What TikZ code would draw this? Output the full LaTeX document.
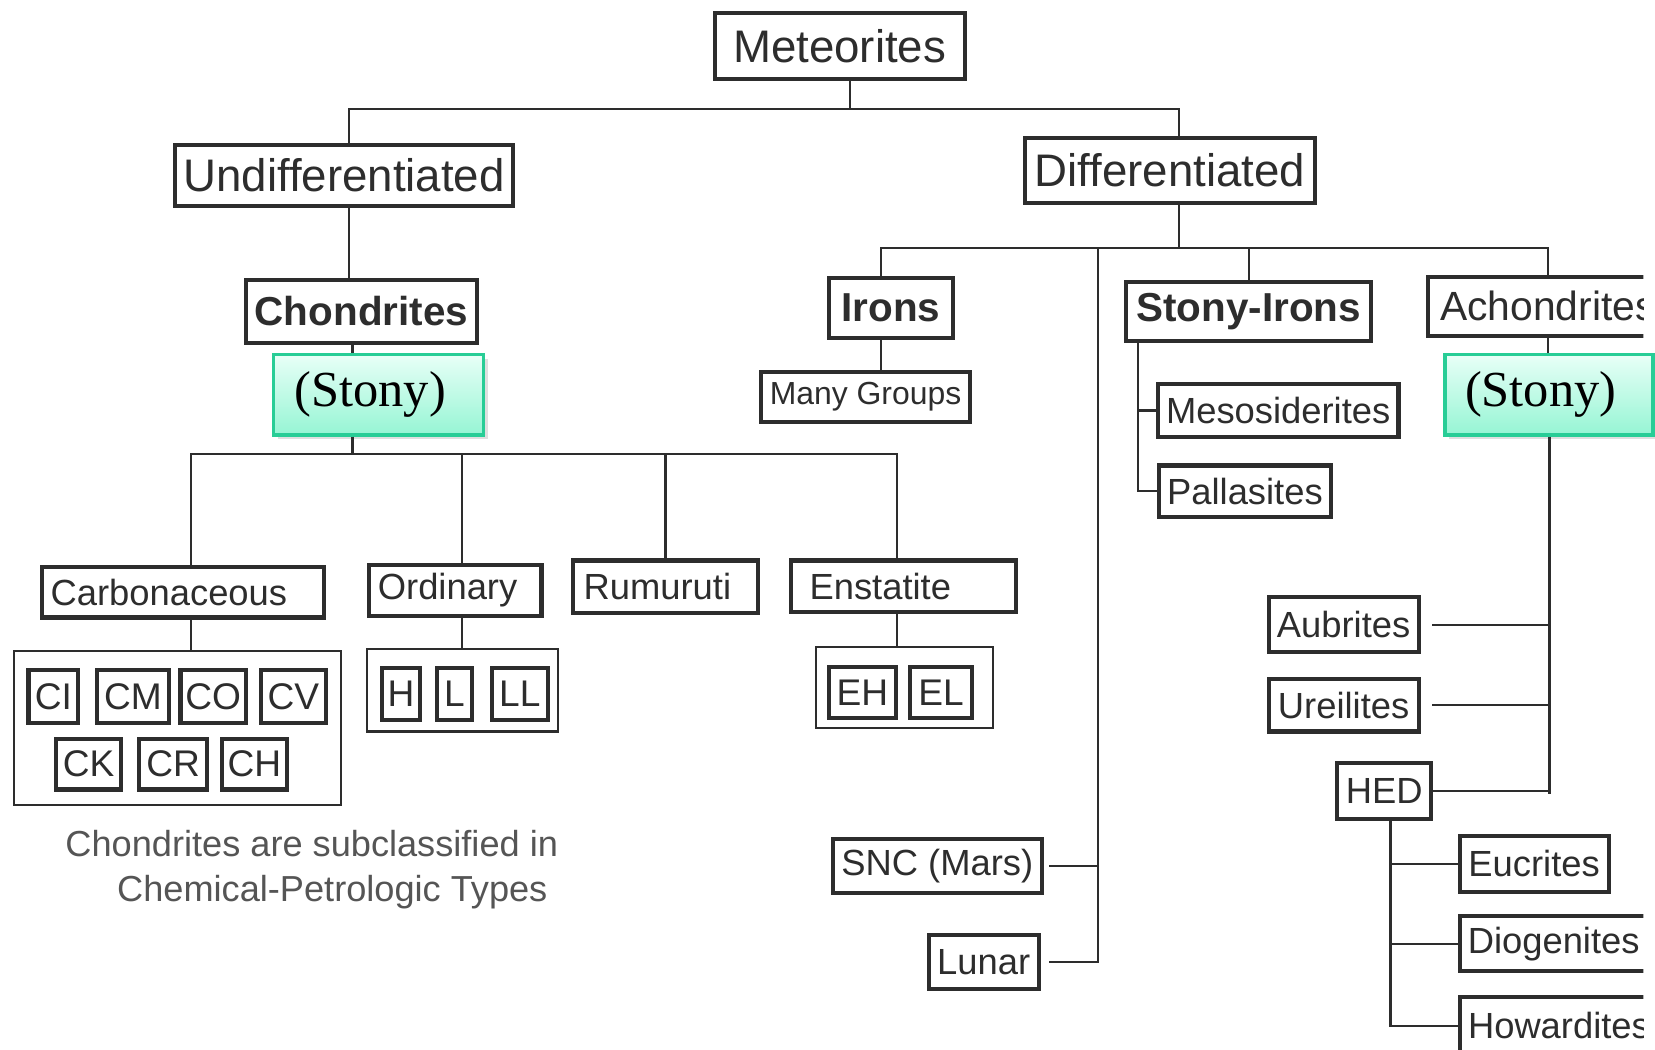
\documentclass[tikz,border=0pt]{standalone}
\usepackage{fontspec}
\setmainfont{Liberation Sans}
\newfontfamily\stonyfont{Liberation Serif}
\usetikzlibrary{shadows}
\definecolor{ink}{RGB}{45,45,45}
\definecolor{note_gray}{RGB}{85,85,85}
\definecolor{stony_top}{RGB}{232,255,247}
\definecolor{stony_bot}{RGB}{150,245,212}
\definecolor{stony_edge}{RGB}{40,205,150}

\begin{document}
\begin{tikzpicture}[x=0.1mm,y=-0.1mm,line width=0.6pt,color=ink]
    \tikzstyle{box}=[draw=ink,line width=1.1pt,inner sep=0pt,text=ink,font=\fontsize{9.8}{11}\selectfont]
    \tikzstyle{bigbox}=[style=box,font=\fontsize{12.3}{14}\selectfont]
    \tikzstyle{boldbox}=[style=box,font=\fontsize{10.9}{13}\selectfont\bfseries]
    \tikzstyle{group}=[draw=ink,line width=0.6pt,inner sep=0pt]
    \tikzstyle{letter}=[style=box,font=\fontsize{10}{11}\selectfont]
    \tikzstyle{stony}=[draw=stony_edge,line width=0.9pt,top color=stony_top,bottom color=stony_bot,
                      text=black,font=\stonyfont\fontsize{13.6}{15}\selectfont,inner sep=0pt,
                      text width=15.9mm,align=left,
                      drop shadow={opacity=0.25,shadow xshift=0.4mm,shadow yshift=-0.4mm}]
    \tikzstyle{note}=[text=note_gray,align=left,inner sep=0pt,font=\fontsize{9.75}{12}\selectfont]

    \fill[white] (0,0) rectangle (1568,994);
    \useasboundingbox (0,0) rectangle (1568,994);

    % green overlays
    \node[stony,minimum width=19.9mm,minimum height=7.6mm] (stonyL) at (358.5,374) {(Stony)};
    \node[stony,minimum width=19.7mm,minimum height=7.6mm] (stonyR) at (1467.5,374) {(Stony)};

    \begin{scope}
    \clip (0,0) rectangle (1557,994);

    % upper levels
    \node[bigbox,minimum width=23.7mm,minimum height=6.3mm] (met) at (795.5,43.5) {Meteorites};
    \node[bigbox,minimum width=32.0mm,minimum height=5.8mm] (und) at (326,166) {Undifferentiated};
    \node[bigbox,minimum width=27.5mm,minimum height=6.1mm] (dif) at (1108.5,161.5) {Differentiated};
    \node[boldbox,minimum width=21.9mm,minimum height=6.0mm] (cho) at (342.5,295) {Chondrites};
    \node[boldbox,minimum width=11.8mm,minimum height=5.7mm] (irn) at (844,291.5) {Irons};
    \node[boldbox,minimum width=23.2mm,minimum height=5.6mm] (sti) at (1183,295) {Stony-Irons};
    \node[box,minimum width=22.7mm,minimum height=5.6mm,font=\fontsize{11}{13}\selectfont] (ach) at (1466.5,290) {Achondrites};
    \node[box,minimum width=19.8mm,minimum height=4.8mm,font=\fontsize{8.6}{10}\selectfont] (many) at (820,376) {Many Groups};
    \node[box,minimum width=22.8mm,minimum height=5.0mm] (mes) at (1211,389) {Mesosiderites};
    \node[box,minimum width=16.3mm,minimum height=4.9mm] (pal) at (1179.5,465.5) {Pallasites};

    % chondrite classes
    \node[box,minimum width=26.7mm,minimum height=4.8mm,text width=25.1mm,align=left] (car) at (173.5,561) {Carbonaceous};
    \node[box,minimum width=16.3mm,minimum height=4.9mm,text width=14.7mm,align=left] (ord) at (431.5,559.5) {Ordinary};
    \node[box,minimum width=17.5mm,minimum height=5.0mm,text width=15.5mm,align=left] (rum) at (630.5,556) {Rumuruti};
    \node[box,minimum width=21.4mm,minimum height=4.9mm,text width=17.8mm,align=left] (ens) at (856,555.5) {Enstatite};

    \node[group,minimum width=31.0mm,minimum height=14.6mm] (grpC) at (168,690) {};
    \node[letter,minimum width=4.7mm,minimum height=5.0mm] (ci) at (50.5,660) {CI};
    \node[letter,minimum width=6.8mm,minimum height=5.0mm] (cm) at (126,660) {CM};
    \node[letter,minimum width=6.2mm,minimum height=5.0mm] (co) at (202,660) {CO};
    \node[letter,minimum width=6.2mm,minimum height=5.0mm] (cv) at (278,660) {CV};
    \node[letter,minimum width=6.2mm,minimum height=4.8mm] (ck) at (84,724) {CK};
    \node[letter,minimum width=6.4mm,minimum height=4.8mm] (cr) at (164,724) {CR};
    \node[letter,minimum width=6.2mm,minimum height=4.8mm] (ch) at (241,724) {CH};

    \node[group,minimum width=18.1mm,minimum height=7.8mm] (grpO) at (438.5,654) {};
    \node[letter,minimum width=3.6mm,minimum height=4.9mm] (h) at (380,657.5) {H};
    \node[letter,minimum width=3.3mm,minimum height=4.9mm] (l) at (430.5,657.5) {L};
    \node[letter,minimum width=5.3mm,minimum height=4.9mm] (ll) at (492.5,657.5) {LL};

    \node[group,minimum width=16.8mm,minimum height=7.7mm] (grpE) at (857,651.5) {};
    \node[letter,minimum width=6.4mm,minimum height=4.8mm] (eh) at (817,656) {EH};
    \node[letter,minimum width=5.9mm,minimum height=4.8mm] (el) at (891.5,656) {EL};

    \node[note,anchor=north west] (cap) at (61,786) {Chondrites are subclassified in\\\hspace*{4.9mm}Chemical-Petrologic Types};

    % achondrite classes
    \node[box,minimum width=14.2mm,minimum height=5.2mm] (aub) at (1273,592) {Aubrites};
    \node[box,minimum width=14.2mm,minimum height=5.0mm] (ure) at (1273,668) {Ureilites};
    \node[box,minimum width=8.9mm,minimum height=5.3mm] (hed) at (1311.5,749.5) {HED};
    \node[box,minimum width=14.1mm,minimum height=5.3mm] (euc) at (1453.5,818.5) {Eucrites};
    \node[box,minimum width=17.8mm,minimum height=5.2mm] (dio) at (1472,894) {Diogenites};
    \node[box,minimum width=18.8mm,minimum height=5.4mm] (how) at (1477,972) {Howardites};
    \node[box,minimum width=19.8mm,minimum height=5.1mm] (snc) at (888,820.5) {SNC (Mars)};
    \node[box,minimum width=10.4mm,minimum height=5.1mm] (lun) at (932,911.5) {Lunar};

    % connectors, left tree
    \coordinate (top) at (805,103);
    \coordinate (uc) at ([xshift=0.5mm]und.south);
    \coordinate (dc) at ([xshift=0.85mm]dif.south);
    \draw (met.south -| top) -- (top);
    \draw (uc |- und.north) |- (top) -| (dc |- dif.north);
    \draw (uc) -- (uc |- cho.north);
    \coordinate (cj) at (334,430);
    \draw (cho.south -| cj) -- (stonyL.north -| cj);
    \draw (stonyL.south -| cj) -- (cj);
    \coordinate (cc) at ([xshift=0.75mm]car.north);
    \coordinate (oc) at ([xshift=0.65mm]ord.north);
    \coordinate (ec) at ([xshift=-0.65mm]ens.north);
    \draw (cc) |- (cj) -| (ec);
    \draw (cj) -| (oc);
    \draw (cj) -| (rum.north);
    \draw (cc |- car.south) -- (cc |- grpC.north);
    \draw (oc |- ord.south) -- (oc |- grpO.north);
    \draw (ec |- ens.south) -- (ec |- grpE.north);

    % connectors, right tree
    \coordinate (dj) at (835,235);
    \draw (dc) -- (dc |- dj);
    \draw (dj |- irn.north) -- (dj) -| (ach.north);
    \draw (sti.north) -- (sti.north |- dj);
    \draw (dj |- irn.south) -- (dj |- many.north);
    \coordinate (lj) at (1040,235);
    \draw[shorten >=0.8mm] (lj) |- (lun.east);
    \draw[shorten <=0.5mm] (snc.east) -- (snc.east -| lj);
    \coordinate (sk) at ([xshift=-1.7mm]mes.west);
    \draw (sk |- sti.south) |- (pal.west);
    \draw (sk) -- (mes.west);
    \draw (ach.south) -- (stonyR.north -| ach.south);
    \coordinate (ak) at (1468,752);
    \draw (stonyR.south -| ak) -- (ak);
    \draw[shorten <=1.1mm] (aub.east) -- (aub.east -| ak);
    \draw[shorten <=1.1mm] (ure.east) -- (ure.east -| ak);
    \draw (hed.east) -- (hed.east -| ak);
    \coordinate (hk) at ([xshift=0.6mm]hed.south);
    \draw (hk) |- (how.west);
    \draw (hk |- euc.west) -- (euc.west);
    \draw (hk |- dio.west) -- (dio.west);
    \end{scope}
\end{tikzpicture}
\end{document}
